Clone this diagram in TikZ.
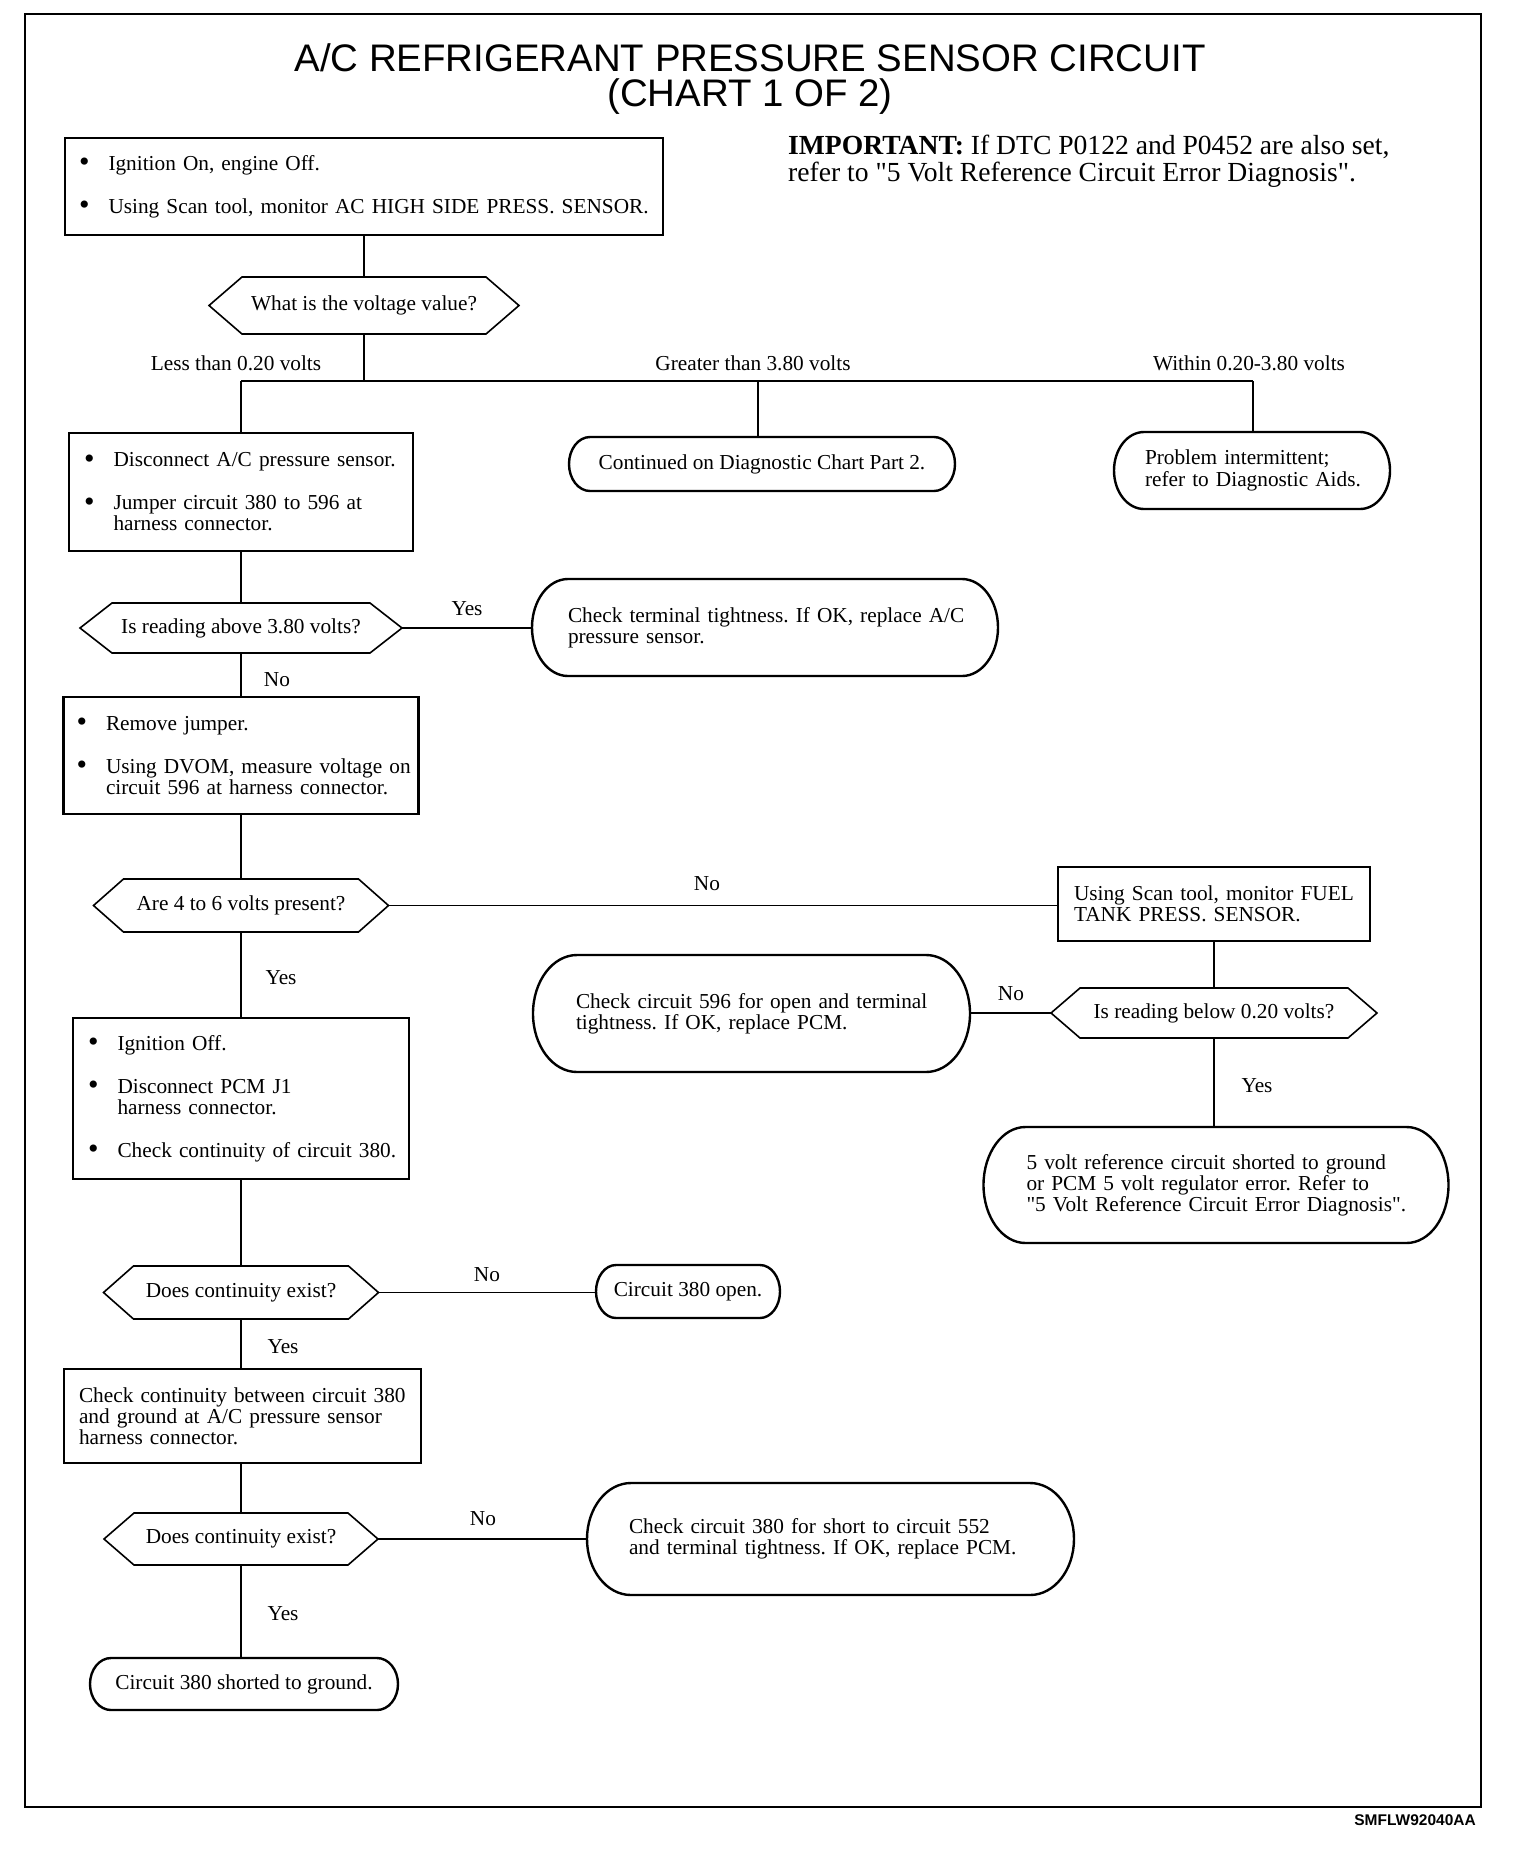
\documentclass[tikz,border=0pt]{standalone}
\usepackage{fontspec}
\setmainfont{Liberation Serif}
\newfontfamily\ttlfont{Liberation Sans}
\newcommand\bodyfnt{\fontsize{21.3pt}{21.2pt}\selectfont\frenchspacing}
\newcommand\Bul{\makebox[29.5pt][l]{\raisebox{-1.5pt}{\fontsize{30pt}{30pt}\selectfont\textbullet}}}
\newcommand\Ind{\hspace*{29.5pt}}
\newcommand\Lx[1]{\mbox{#1}}
\newcommand\strq{\XeTeXglyph\XeTeXcharglyph"22\relax}
\newcommand\hexo[2]{\draw[hexline] (#1.west) -- ([xshift=#2]#1.north west) -- ([xshift=-#2]#1.north east) -- (#1.east) -- ([xshift=-#2]#1.south east) -- ([xshift=#2]#1.south west) -- cycle;}
\newcommand\termo[3]{\draw[shp] ([xshift=#2]#1.north west) -- ([xshift=-#2]#1.north east) arc[start angle=90,end angle=-90,x radius=#2,y radius=#3] -- ([xshift=#2]#1.south west) arc[start angle=270,end angle=90,x radius=#2,y radius=#3] -- cycle;}
\tikzset{
  boxn/.style={draw, line width=2.6pt, inner ysep=0pt, outer sep=0pt, align=left, font=\bodyfnt},
  termn/.style={inner ysep=0pt, outer sep=0pt, align=left, font=\bodyfnt},
  hexn/.style={inner sep=0pt, outer sep=0pt, font=\bodyfnt},
  shp/.style={line width=2.4pt, line join=round},
  hexline/.style={line width=1.6pt, line join=miter},
  conn/.style={line width=1.2pt},
  lbl/.style={font=\bodyfnt, inner sep=0pt},
}
\begin{document}
\frenchspacing
\begin{tikzpicture}[x=1pt,y=-1pt]
\useasboundingbox (0,0) rectangle (1520,1850);
\draw[line width=2pt] (25,14) rectangle (1481,1807);

\node[font=\ttlfont\fontsize{38.4pt}{35.6pt}\selectfont, align=center, inner sep=0pt] (title) at (750,79) {A/C REFRIGERANT PRESSURE SENSOR CIRCUIT\\(CHART 1 OF 2)};
\node[font=\fontsize{27.6pt}{27pt}\selectfont\frenchspacing, align=left, anchor=west, inner sep=0pt] (imp) at (788,161) {\textbf{IMPORTANT:} If DTC P0122 and P0452 are also set,\\refer to \strq 5 Volt Reference Circuit Error Diagnosis\strq.};
\node[font=\ttlfont\bfseries\fontsize{15.5pt}{16pt}\selectfont, anchor=east, inner sep=0pt] (code) at (1476,1820) {SMFLW92040AA};

% boxes
\node[boxn, minimum width=598pt, minimum height=97pt, inner xsep=14pt, text width=570pt] (b1) at (364,186.5)
 {\Lx{\Bul Ignition On, engine Off.}\\[21.5pt]\Lx{\Bul Using Scan tool, monitor AC HIGH SIDE PRESS. SENSOR.}};
\node[boxn, minimum width=344pt, minimum height=118pt, inner xsep=15pt, text width=314pt] (b2) at (241,492)
 {\Lx{\Bul Disconnect A/C pressure sensor.}\\[21.5pt]\Lx{\Bul Jumper circuit 380 to 596 at}\\\Lx{\Ind harness connector.}};
\node[boxn, minimum width=355pt, minimum height=117pt, inner xsep=13pt, text width=329pt] (b3) at (241,755.5)
 {\Lx{\Bul Remove jumper.}\\[21.5pt]\Lx{\Bul Using DVOM, measure voltage on}\\\Lx{\Ind circuit 596 at harness connector.}};
\node[boxn, minimum width=312pt, minimum height=74pt, inner xsep=16pt, text width=280pt] (b4) at (1214,904)
 {\Lx{Using Scan tool, monitor FUEL}\\\Lx{TANK PRESS. SENSOR.}};
\node[boxn, minimum width=336pt, minimum height=161pt, inner xsep=15pt, text width=306pt] (b5) at (241,1098.5)
 {\Lx{\Bul Ignition Off.}\\[21.5pt]\Lx{\Bul Disconnect PCM J1}\\\Lx{\Ind harness connector.}\\[21.5pt]\Lx{\Bul Check continuity of circuit 380.}};
\node[boxn, minimum width=357pt, minimum height=94pt, inner xsep=15pt, text width=327pt] (b6) at (242.5,1416)
 {\Lx{Check continuity between circuit 380}\\\Lx{and ground at A/C pressure sensor}\\\Lx{harness connector.}};

% decisions
\node[hexn, minimum width=310pt, minimum height=57pt] (h1) at (364,305.5) {What is the voltage value?};
\hexo{h1}{33pt}
\node[hexn, minimum width=322pt, minimum height=50pt] (h2) at (241,628) {Is reading above 3.80 volts?};
\hexo{h2}{32pt}
\node[hexn, minimum width=295pt, minimum height=53pt] (h3) at (241,905.5) {Are 4 to 6 volts present?};
\hexo{h3}{30pt}
\node[hexn, minimum width=326pt, minimum height=50pt] (h4) at (1214,1013) {Is reading below 0.20 volts?};
\hexo{h4}{29pt}
\node[hexn, minimum width=275pt, minimum height=53pt] (h5) at (241,1292.5) {Does continuity exist?};
\hexo{h5}{30pt}
\node[hexn, minimum width=274pt, minimum height=52pt] (h6) at (241,1539) {Does continuity exist?};
\hexo{h6}{30pt}

% terminals
\node[termn, minimum width=386pt, minimum height=54pt] (tA) at (762,464) {Continued on Diagnostic Chart Part 2.};
\termo{tA}{21pt}{27pt}
\node[termn, minimum width=276pt, minimum height=77pt, inner xsep=31pt, text width=214pt] (tB) at (1252,470.5)
 {\Lx{Problem intermittent;}\\\Lx{refer to Diagnostic Aids.}};
\termo{tB}{30pt}{38.5pt}
\node[termn, minimum width=466pt, minimum height=97pt, inner xsep=36pt, text width=394pt] (tC) at (765,627.5)
 {\Lx{Check terminal tightness. If OK, replace A/C}\\\Lx{pressure sensor.}};
\termo{tC}{36pt}{48.5pt}
\node[termn, minimum width=437pt, minimum height=117pt, inner xsep=43pt, text width=351pt] (tD) at (751.5,1013.5)
 {\Lx{Check circuit 596 for open and terminal}\\\Lx{tightness. If OK, replace PCM.}};
\termo{tD}{44pt}{58.5pt}
\node[termn, minimum width=465pt, minimum height=116pt, inner xsep=43pt, text width=379pt] (tE) at (1216,1185)
 {\Lx{5 volt reference circuit shorted to ground}\\\Lx{or PCM 5 volt regulator error. Refer to}\\\Lx{\strq 5 Volt Reference Circuit Error Diagnosis\strq.}};
\termo{tE}{42pt}{58pt}
\node[termn, minimum width=184pt, minimum height=53pt] (tF) at (688,1291.5) {Circuit 380 open.};
\termo{tF}{20pt}{26.5pt}
\node[termn, minimum width=487pt, minimum height=112pt, inner xsep=42pt, text width=403pt] (tG) at (830.5,1539)
 {\Lx{Check circuit 380 for short to circuit 552}\\\Lx{and terminal tightness. If OK, replace PCM.}};
\termo{tG}{44pt}{56pt}
\node[termn, minimum width=308pt, minimum height=52pt] (tH) at (244,1684) {Circuit 380 shorted to ground.};
\termo{tH}{21pt}{26pt}

% connectors
\coordinate (jL) at (241,381);
\coordinate (jM) at (758,381);
\coordinate (jR) at (1253,381);
\draw[conn] (b1.south) -- (h1.north);
\draw[conn] (h1.south) -- (h1.south |- jL);
\draw[conn] (jL) -- (jR);
\draw[conn] (jL) -- (jL |- b2.north);
\draw[conn] (jM) -- (jM |- tA.north);
\draw[conn] (jR) -- (jR |- tB.north);
\draw[conn] (b2.south) -- (b2.south |- h2.north);
\draw[conn] (h2.east) -- (h2.east -| tC.west);
\draw[conn] (h2.south) -- (h2.south |- b3.north);
\draw[conn] (b3.south) -- (b3.south |- h3.north);
\draw[conn] (h3.east) -- (h3.east -| b4.west);
\draw[conn] (b4.south) -- (b4.south |- h4.north);
\draw[conn] (h4.west) -- (h4.west -| tD.east);
\draw[conn] (h4.south) -- (h4.south |- tE.north);
\draw[conn] (h3.south) -- (h3.south |- b5.north);
\draw[conn] (b5.south) -- (b5.south |- h5.north);
\draw[conn] (h5.east) -- (h5.east -| tF.west);
\draw[conn] (h5.south) -- (h5.south |- b6.north);
\draw[conn] (h6.north |- b6.south) -- (h6.north);
\draw[conn] (h6.east) -- (h6.east -| tG.west);
\draw[conn] (h6.south) -- (h6.south |- tH.north);

% labels
\node[lbl] (lLess) at (236,363.5) {Less than 0.20 volts};
\node[lbl] (lGreater) at (753,363.5) {Greater than 3.80 volts};
\node[lbl] (lWithin) at (1249,363.5) {Within 0.20-3.80 volts};
\node[lbl] (y1) at (467,609) {Yes};
\node[lbl] (n1) at (277,680) {No};
\node[lbl] (n2) at (707,884) {No};
\node[lbl] (y2) at (281,978) {Yes};
\node[lbl] (n3) at (1011,994) {No};
\node[lbl] (y3) at (1257,1086) {Yes};
\node[lbl] (n4) at (487,1274.5) {No};
\node[lbl] (y4) at (283,1346.5) {Yes};
\node[lbl] (n5) at (483,1519) {No};
\node[lbl] (y5) at (283,1614) {Yes};
\end{tikzpicture}
\end{document}
